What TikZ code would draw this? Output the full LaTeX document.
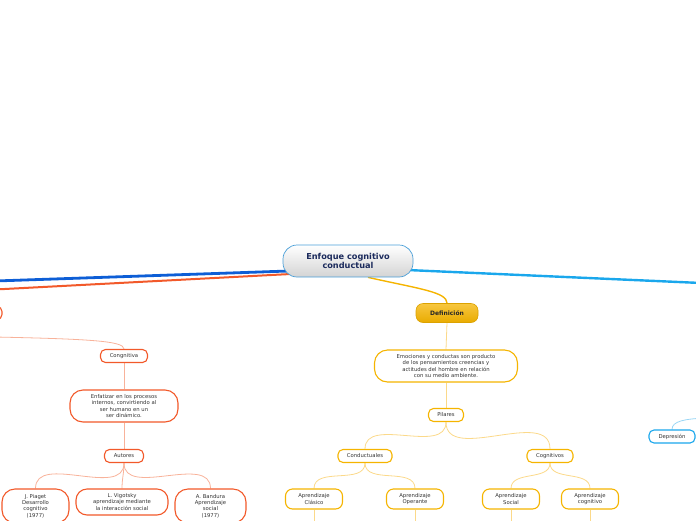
\documentclass[tikz,border=0pt]{standalone}
\usepackage{fontspec}
\setmainfont{DejaVu Sans}
\usepackage{tikz}
\usepackage{xcolor}
\usetikzlibrary{positioning, backgrounds, calc}

\definecolor{rootline}{HTML}{4A9FD8}
\definecolor{navy}{HTML}{1B2A5C}
\definecolor{gold}{HTML}{F5B400}
\definecolor{goldlight}{HTML}{FBD98A}
\definecolor{coral}{HTML}{F2592A}
\definecolor{corallight}{HTML}{F8B29A}
\definecolor{deepblue}{HTML}{0D5ED6}
\definecolor{skyblue}{HTML}{1AA7EC}
\definecolor{skylight}{HTML}{9AD6F5}
\definecolor{txt}{HTML}{333333}

\begin{document}
\begin{tikzpicture}[x=1pt, y=-1pt,
  box/.style={draw, line width=1.1pt, rounded corners=5pt, fill=white, align=center,
    font=\fontsize{5.3}{6.4}\selectfont, text=txt, inner sep=1pt, minimum height=13pt},
  ybox/.style={box, draw=gold},
  obox/.style={box, draw=coral},
  bbox/.style={box, draw=skyblue},
  big/.style={rounded corners=13pt, minimum height=32pt},
  pair/.style={minimum width=57pt, minimum height=20pt, rounded corners=7pt},
  ylink/.style={draw=goldlight, line width=0.8pt},
  olink/.style={draw=corallight, line width=0.8pt},
]
\useasboundingbox (0,0) rectangle (696,520);
\clip (0,0) rectangle (696,520);

% centro
\node[draw=rootline, line width=0.7pt, rounded corners=14pt, minimum width=130pt, minimum height=32pt,
      top color=white, bottom color=black!17, align=center, text=navy,
      font=\fontsize{8.2}{9.5}\selectfont\bfseries] (root) at (348,261) {Enfoque cognitivo\\conductual};

% Definicion
\node[draw=gold!90!black, line width=0.6pt, rounded corners=7pt, minimum width=62pt, minimum height=19pt,
      top color=gold!75, bottom color=gold!95!black, text=black!85,
      font=\fontsize{6}{7}\selectfont\bfseries] (def) at (447,313) {Definición};
\node[ybox, big, minimum width=143pt] (emo) at (446,366)
  {Emociones y conductas son producto\\de los pensamientos creencias y\\actitudes del hombre en relación\\con su medio ambiente.};
\node[ybox, minimum width=35pt] (pil) at (446,415) {Pilares};
\node[ybox, minimum width=54pt] (cond) at (365,456) {Conductuales};
\node[ybox, minimum width=46pt] (cogn) at (550,456) {Cognitivos};
\node[ybox, pair] (clas) at (314,499) {Aprendizaje\\Clásico};
\node[ybox, pair] (oper) at (415,499) {Aprendizaje\\Operante};
\node[ybox, pair] (soc) at (511,499) {Aprendizaje\\Social};
\node[ybox, pair] (apc) at (590,499) {Aprendizaje\\cognitivo};

% rama izquierda
\node[obox, minimum width=60pt] (lft) at (-28,313) {};
\node[obox, minimum width=47pt] (cga) at (124,356) {Congnitiva};
\node[obox, big, minimum width=108pt] (enf) at (124,406)
  {Enfatizar en los procesos\\internos, convirtiendo al\\ser humano en un\\ser dinámico.};
\node[obox, minimum width=39pt] (aut) at (124,456) {Autores};
\node[obox, big, minimum width=67pt, minimum height=34pt] (pia) at (35.5,506)
  {J. Piaget\\Desarrollo\\cognitivo\\(1977)};
\node[obox, big, minimum width=92pt, minimum height=26pt, rounded corners=11pt] (vig) at (122,502)
  {L. Vigotsky\\aprendizaje mediante\\la interacción social};
\node[obox, big, minimum width=71pt, minimum height=34pt] (ban) at (210.5,506)
  {A. Bandura\\Aprendizaje\\social\\(1977)};

% rama derecha
\node[bbox, minimum width=46pt] (dep) at (672,436.5) {Depresión};

% puntos fuera del marco
\coordinate (eb) at (-5,281);
\coordinate (eo) at (-5,289.5);
\coordinate (es) at (701,283);
\coordinate (eo2) at (-5,337);
\coordinate (es2) at (705,418);

\begin{scope}[on background layer]
  \draw[deepblue, line width=2.8pt] ($(root.west)+(6,10)$) -- (eb);
  \draw[coral, line width=2pt] ($(root.west)+(8,13)$) -- (eo);
  \draw[skyblue, line width=2.4pt] ($(root.east)+(-6,9)$) -- (es);
  \draw[gold, line width=1.4pt] ($(root.south)+(20,0)$) .. controls (420,289) and (447,292) .. (def.north);
  % definicion
  \draw[ylink] (def.south) -- (emo.north);
  \draw[ylink] (emo.south) -- (pil.north);
  \foreach \c in {cond, cogn}
    \draw[ylink] (pil.south) to[out=-90, in=90] (\c.north);
  \foreach \c in {clas, oper}
    \draw[ylink] (cond.south) to[out=-90, in=90] (\c.north);
  \foreach \c in {soc, apc}
    \draw[ylink] (cogn.south) to[out=-90, in=90] (\c.north);
  \foreach \c in {clas, oper, soc, apc}
    \draw[ylink] (\c.south) -- ++(0,20);
  % izquierda
  \draw[olink] (eo2) .. controls (90,339) and (124,341) .. (cga.north);
  \draw[olink] (cga.south) -- (enf.north);
  \draw[olink] (enf.south) -- (aut.north);
  \foreach \c in {pia, vig, ban}
    \draw[olink] (aut.south) to[out=-90, in=90] (\c.north);
  % derecha
  \draw[skylight, line width=0.8pt] (dep.north) .. controls (672,421) and (685,419) .. (es2);
\end{scope}

\end{tikzpicture}
\end{document}
